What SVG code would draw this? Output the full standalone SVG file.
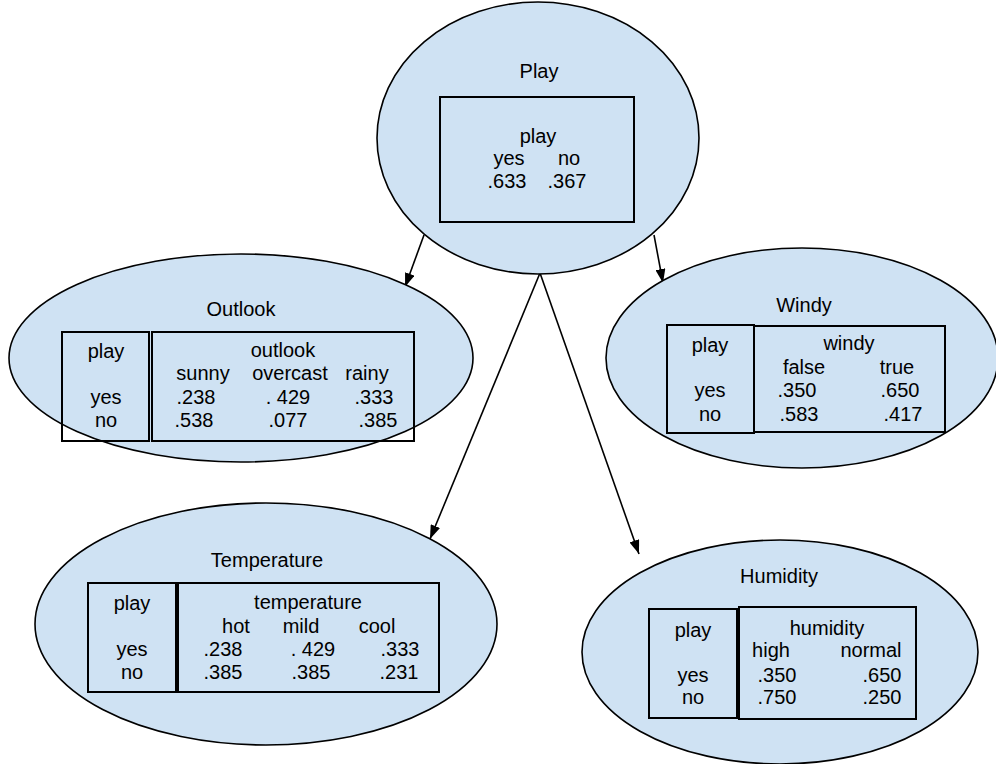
<svg xmlns="http://www.w3.org/2000/svg" width="996" height="764" viewBox="0 0 996 764">
  <style>
    .node { fill: #cfe2f3; stroke: #000; stroke-width: 1.6; }
    .tbl { fill: none; stroke: #000; stroke-width: 2; }
    text { font-family: "Liberation Sans", Arial, sans-serif; font-size: 20px; fill: #000; text-anchor: middle; }
    .edge { stroke: #000; stroke-width: 1.6; fill: none; marker-end: url(#arrow); }
  </style>
  <defs>
    <marker id="arrow" viewBox="0 0 14 10" refX="14" refY="5" markerWidth="14" markerHeight="10" markerUnits="userSpaceOnUse" orient="auto">
      <path d="M0,0 L14,5 L0,10 z" fill="#000"/>
    </marker>
  </defs>
  <rect width="996" height="764" fill="#fff"/>

  <!-- connectors -->
  <g id="edges">
    <path d="M424,235 L405,287" class="edge"/>
    <path d="M654,235 L663,283" class="edge"/>
    <path d="M540,273 L430,539" class="edge"/>
    <path d="M540,273 L639,554" class="edge"/>
  </g>

  <!-- Play -->
  <g id="play">
    <ellipse class="node" cx="538" cy="138" rx="161" ry="136"/>
    <rect class="tbl" x="440" y="97" width="194" height="125"/>
    <text x="539" y="78">Play</text>
    <text x="538" y="143">play</text>
    <text x="509" y="165">yes</text>
    <text x="569" y="165">no</text>
    <text x="507" y="188">.633</text>
    <text x="567" y="188">.367</text>
  </g>

  <!-- Outlook -->
  <g id="outlook">
    <ellipse class="node" cx="241" cy="358" rx="232" ry="104"/>
    <rect class="tbl" x="62" y="332" width="87" height="109"/>
    <rect class="tbl" x="152" y="332" width="262" height="109"/>
    <text x="241" y="316">Outlook</text>
    <text x="106" y="358">play</text>
    <text x="106" y="404">yes</text>
    <text x="106" y="427">no</text>
    <text x="283" y="357">outlook</text>
    <text x="203" y="380">sunny</text>
    <text x="290" y="380">overcast</text>
    <text x="367" y="380">rainy</text>
    <text x="196" y="404">.238</text>
    <text x="288" y="404">. 429</text>
    <text x="374" y="404">.333</text>
    <text x="194" y="427">.538</text>
    <text x="288" y="427">.077</text>
    <text x="378" y="427">.385</text>
  </g>

  <!-- Windy -->
  <g id="windy">
    <ellipse class="node" cx="802" cy="358" rx="196" ry="110"/>
    <rect class="tbl" x="667" y="325" width="87" height="108"/>
    <rect class="tbl" x="754" y="326" width="191" height="106"/>
    <text x="804" y="312">Windy</text>
    <text x="710" y="352">play</text>
    <text x="710" y="397">yes</text>
    <text x="710" y="421">no</text>
    <text x="849" y="350">windy</text>
    <text x="804" y="374">false</text>
    <text x="897" y="374">true</text>
    <text x="797" y="397">.350</text>
    <text x="900" y="397">.650</text>
    <text x="799" y="421">.583</text>
    <text x="903" y="421">.417</text>
  </g>

  <!-- Temperature -->
  <g id="temperature">
    <ellipse class="node" cx="266" cy="624" rx="231" ry="121"/>
    <rect class="tbl" x="88" y="583" width="88" height="109"/>
    <rect class="tbl" x="178" y="583" width="261" height="109"/>
    <text x="267" y="567">Temperature</text>
    <text x="132" y="610">play</text>
    <text x="132" y="656">yes</text>
    <text x="132" y="679">no</text>
    <text x="308" y="609">temperature</text>
    <text x="236" y="633">hot</text>
    <text x="301" y="633">mild</text>
    <text x="377" y="633">cool</text>
    <text x="223" y="656">.238</text>
    <text x="313" y="656">. 429</text>
    <text x="400" y="656">.333</text>
    <text x="223" y="679">.385</text>
    <text x="311" y="679">.385</text>
    <text x="399" y="679">.231</text>
  </g>

  <!-- Humidity -->
  <g id="humidity">
    <ellipse class="node" cx="780" cy="652" rx="198" ry="112"/>
    <rect class="tbl" x="649" y="609" width="88" height="109"/>
    <rect class="tbl" x="739" y="607" width="177" height="112"/>
    <text x="779" y="583">Humidity</text>
    <text x="693" y="637">play</text>
    <text x="693" y="682">yes</text>
    <text x="693" y="704">no</text>
    <text x="827" y="635">humidity</text>
    <text x="771" y="657">high</text>
    <text x="871" y="657">normal</text>
    <text x="777" y="682">.350</text>
    <text x="882" y="682">.650</text>
    <text x="777" y="704">.750</text>
    <text x="882" y="704">.250</text>
  </g>
</svg>
